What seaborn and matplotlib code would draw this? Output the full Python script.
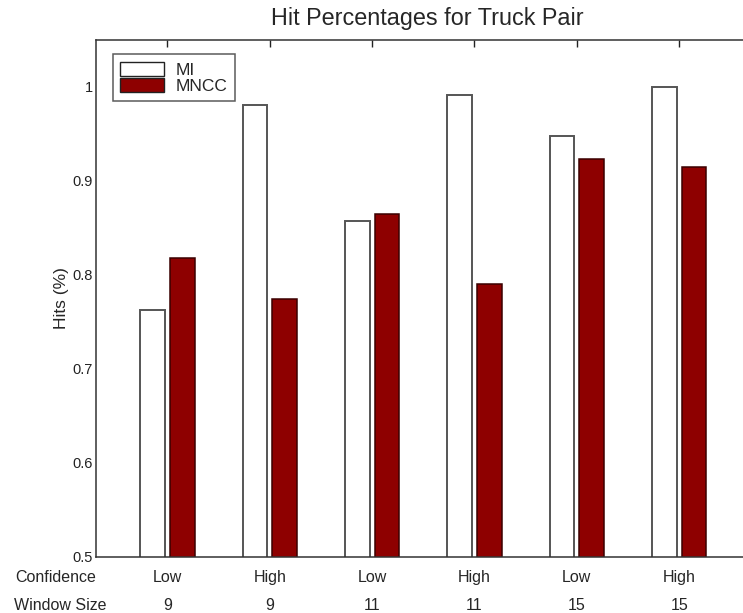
import matplotlib
matplotlib.use("Agg")
import matplotlib.pyplot as plt
from matplotlib.patches import Patch
from matplotlib.transforms import blended_transform_factory
import seaborn as sns
import pandas as pd

# Hit rates per configuration
confidence = ["Low", "High", "Low", "High", "Low", "High"]
window_size = ["9", "9", "11", "11", "15", "15"]
mi_hits = [0.763, 0.981, 0.857, 0.992, 0.948, 1.000]
mncc_hits = [0.818, 0.775, 0.865, 0.790, 0.923, 0.915]
methods = ["MI", "MNCC"]
colors = {"MI": "#ffffff", "MNCC": "#8e0000"}

n = len(confidence)
df = pd.DataFrame({
    "config": list(range(n)) * 2,
    "method": ["MI"] * n + ["MNCC"] * n,
    "hits": mi_hits + mncc_hits,
})

sns.set_style("white")
plt.rcParams["font.family"] = ["Liberation Sans", "DejaVu Sans"]

fig = plt.figure(figsize=(7.43, 6.13), dpi=100)
ax = fig.add_axes([96 / 743, 56 / 613, 662 / 743, 517 / 613])

sns.barplot(data=df, x="config", y="hits", hue="method", hue_order=methods,
            palette=colors, saturation=1, width=0.58, gap=0.17,
            edgecolor="#555555", linewidth=1.4, ax=ax, legend=False)
for p in ax.patches:
    if p.get_facecolor()[0] < 0.9:
        p.set_edgecolor("#3a0000")
        p.set_linewidth(1.1)

ax.set_xlim(-0.697, 5.77)
ax.set_ylim(0.5, 1.05)
ax.set_yticks([0.5, 0.6, 0.7, 0.8, 0.9, 1.0])
ax.set_yticklabels(["0.5", "0.6", "0.7", "0.8", "0.9", "1"])
ax.set_xticks(range(n))
ax.set_xticklabels([])
ax.set_xlabel("")
ax.set_ylabel("Hits (%)", fontsize=12.5, labelpad=3)
ax.tick_params(direction="in", length=5, width=1, top=True, right=False,
               labelsize=10.5, pad=2, colors="#222222")
for s in ax.spines.values():
    s.set_color("#333333")
    s.set_linewidth(1.1)
ax.spines["right"].set_visible(False)
ax.set_title("Hit Percentages for Truck Pair", fontsize=16.8, pad=10.5)

# Two rows of category labels under the axis
row_y = [-0.039, -0.094]
row_trans = blended_transform_factory(fig.transFigure, ax.transAxes)
ax.text(15 / 743, row_y[0], "Confidence", fontsize=11.5, ha="left",
        va="center", transform=row_trans)
ax.text(14 / 743, row_y[1], "Window Size", fontsize=11.5, ha="left",
        va="center", transform=row_trans)
trans = ax.get_xaxis_transform()
for i in range(n):
    ax.text(i, row_y[0], confidence[i], transform=trans, fontsize=11.5,
            ha="center", va="center")
    ax.text(i, row_y[1], window_size[i], transform=trans, fontsize=11.5,
            ha="center", va="center")

# Legend
handles = [Patch(facecolor=colors[m], edgecolor="#222222", linewidth=1.0)
           for m in methods]
leg = ax.legend(handles, methods, loc="upper left", bbox_to_anchor=(0.0255, 0.972),
                fontsize=12.5, handlelength=2.5, handleheight=0.85,
                labelspacing=0.0, handletextpad=0.7, borderpad=0.42,
                borderaxespad=0, frameon=True, fancybox=False)
leg.get_frame().set_edgecolor("#333333")
leg.get_frame().set_linewidth(1.1)

fig.savefig("out.png", dpi=100)
